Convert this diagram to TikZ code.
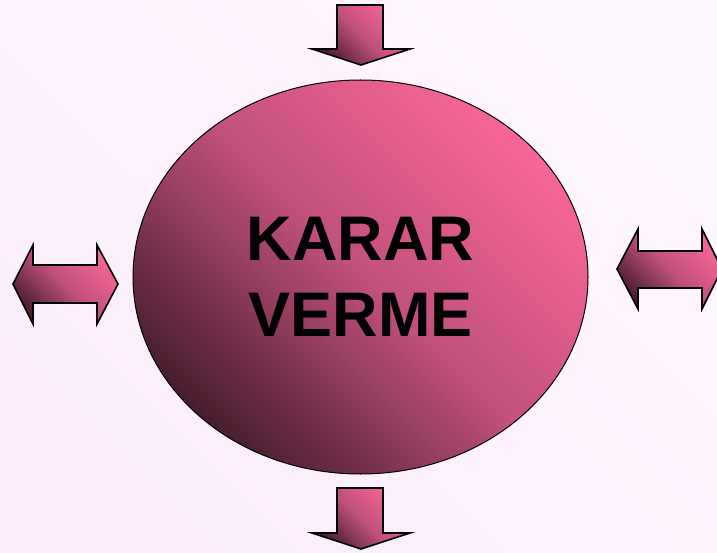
\documentclass[tikz,border=0pt]{standalone}
\usepackage{fontspec}
\setmainfont{Liberation Sans}
\usetikzlibrary{shapes.geometric}

\definecolor{rosepink}{HTML}{F76696}
\definecolor{rosemid}{HTML}{C0507C}
\definecolor{rosedark}{HTML}{461D2D}
\definecolor{bgtop}{HTML}{FFF7FF}
\definecolor{bgbottom}{HTML}{FBEDFB}

\begin{document}
\begin{tikzpicture}[x=1pt, y=-1pt]
\tikzset{
  pinkshade/.style={top color=rosepink, bottom color=rosedark, middle color=rosemid, shading angle=-45},
  arrowshape/.style={pinkshade, draw=black, line width=1.6pt, line join=miter},
  bigoval/.style={ellipse, pinkshade, draw=black, line width=1pt, minimum width=455pt, minimum height=394pt, align=center, font=\bfseries\fontsize{63}{76}\selectfont, inner sep=0pt}
}

% Background
\shade[top color=bgtop, bottom color=bgbottom, shading angle=-45] (0,0) rectangle (717,553);
\useasboundingbox (0,0) rectangle (717,553);

% Oval
\node[bigoval] (karar) at (360.5,277) {KARAR\\VERME};

% Arrows
\path[arrowshape] (337,5) -- (383,5) -- (383,49) -- (410,49) -- (361,65) -- (312,49) -- (337,49) -- cycle;
\path[arrowshape] (337,488) -- (383,488) -- (383,533) -- (410,533) -- (361,549) -- (312,533) -- (337,533) -- cycle;
\path[arrowshape] (13,284) -- (33,245) -- (33,265) -- (97,265) -- (97,245) -- (118,284) -- (97,324) -- (97,303) -- (33,303) -- (33,324) -- cycle;
\path[arrowshape] (617,269) -- (638,229) -- (638,251) -- (702,251) -- (702,229) -- (722,269) -- (702,309) -- (702,288) -- (638,288) -- (638,309) -- cycle;
\end{tikzpicture}
\end{document}
